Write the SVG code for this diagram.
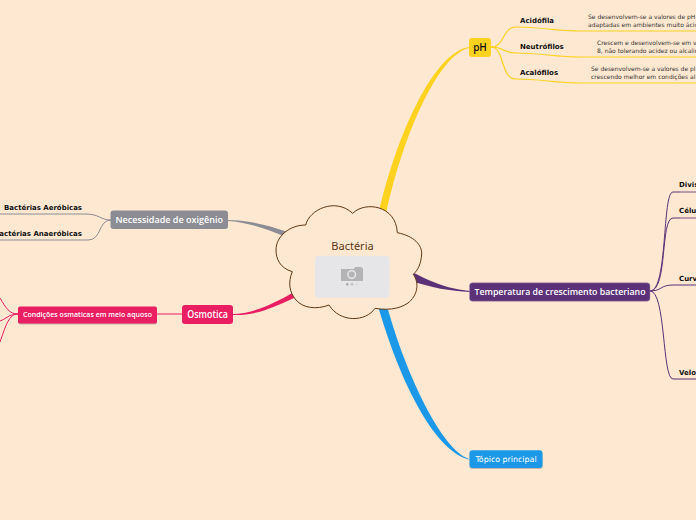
<svg xmlns="http://www.w3.org/2000/svg" width="696" height="520" viewBox="0 0 696 520">
<style>
text{font-family:"DejaVu Sans","Liberation Sans",sans-serif}
.l{font-size:7px;font-weight:700;fill:#111}
.d{font-size:6px;fill:#333}
.w{font-weight:600;fill:#fff;text-anchor:middle;font-family:"Open Sans","Noto Sans",sans-serif}
.c{fill:none}
.y{stroke:#ffd21f}.p{stroke:#5c3177}.g{stroke:#8c8c94}.r{stroke:#e91e63}
.f{stroke-width:1.500;opacity:.55}
</style>
<rect width="696" height="520" fill="#ffe8d1"/>
<g id="connectors" fill="none">
<path d="M379 212C398 130 435 52 469 47L469 48C440 54 404 130 386 214Z" fill="#ffd21f"/>
<path d="M378 306C398 375 432 450 469 459.500L469 458.900C442 450 406 375 387 306Z" fill="#1b98e8"/>
<path d="M408 270C435 284 450 289 470 291L470 292C450 291 432 288 408 280Z" fill="#5c3177"/>
<path d="M288 232C265 224 245 220 228 220L228 221C245 222 262 227 286 237Z" fill="#8c8c94"/>
<path d="M296 291C270 306 250 314 233 314L233 315C252 316 272 309 298 296Z" fill="#e91e63"/>
<g class="c y" stroke-width="1.200">
<path d="M491 47C505 47 502 27 516 27C540 27 556 31 580 31L696 31"/>
<path d="M491 47C505 47 502 53 516 53C540 53 556 57 580 57L696 57"/>
<path d="M491 47C505 47 500 79 516 79C540 79 556 83 580 83L696 83"/>
</g>
<g class="c p" stroke-width="1">
<path d="M650 291C668 291 662 192 673 192L680 192"/>
<path d="M650 291C668 291 660 218 673 218L680 218"/>
<path d="M650 291C662 291 660 285 673 285L696 285"/>
<path d="M650 291C666 291 662 379 673 379L696 379"/>
<path class="f" d="M680 192H696M680 218H696"/>
</g>
<g class="c g" stroke-width="1">
<path d="M111 220C100 220 100 214 85 214L0 214"/>
<path d="M111 220C98 220 102 240 88 240L0 240"/>
</g>
<g class="c r" stroke-width="1">
<path d="M183 314L157 314"/>
<path d="M18 314C9 314 6 308 0 298"/>
<path d="M18 314C9 314 6 319 0 321"/>
<path d="M18 314C9 314 6 325 0 342"/>
</g>
</g>
<g id="root">
<path d="M305.700 225C309 210 335 197 352.700 213.300C365 201 396 205 397.300 232.700C414 236 422 245 421.700 254C421 264 418 270 413.300 274.300C420 284 417 296 408 303C398 310 385 310 375 308.300C366 322 340 323 329 305C316 310 303 308 296 300C289 292 288 282 292.300 271.700C280 268 276 259 276 250C276 236 290 225 305.700 225Z" fill="#ffe8d1" stroke="#5f3713" stroke-width="1"/>
<text x="352.500" y="250" font-size="11" text-anchor="middle" fill="#5f3713" style="font-family:'Noto Sans','Open Sans',sans-serif">Bactéria</text>
<rect x="315" y="255.700" width="74.500" height="42" rx="4" fill="#e6e6e8"/>
<path d="M341 269h13l1-2h6l2 1.500v12.500h-22z" fill="#b4b4b6"/>
<circle cx="351.700" cy="274.500" r="3.800" fill="none" stroke="#e6e6e8" stroke-width="1.500"/>
<circle cx="347.300" cy="284.300" r="1.300" fill="#a8a8aa"/><circle cx="352" cy="284.300" r="1.300" fill="#c0c0c2"/><circle cx="356.700" cy="284.300" r="1.300" fill="#dcdcde"/>
</g>
<g id="ph"><rect x="469" y="38" width="22" height="19" rx="3" fill="#ffd21f"/><text x="480" y="51" font-size="10" font-weight="600" text-anchor="middle" fill="#111" style="font-family:'Open Sans',sans-serif">pH</text></g>
<g id="acidofila"><text class="l" x="520" y="23">Acidófila</text><text class="d" x="588" y="19">Se desenvolvem-se a valores de pH</text><text class="d" x="588" y="27">adaptadas em ambientes muito ácid</text></g>
<g id="neutrofilos"><text class="l" x="520" y="49">Neutrófilos</text><text class="d" x="597" y="45">Crescem e desenvolvem-se em v</text><text class="d" x="597" y="53">8, não tolerando acidez ou alcalin</text></g>
<g id="acalofilos"><text class="l" x="520" y="75">Acalófilos</text><text class="d" x="591" y="71">Se desenvolvem-se a valores de pl</text><text class="d" x="591" y="79">crescendo melhor em condições al</text></g>
<g id="temperatura"><rect x="469.500" y="282.800" width="180.500" height="18.400" rx="3" fill="#5c3177" stroke="#a98fb8" stroke-width=".5"/><text class="w" x="560" y="295" font-size="9.500" textLength="171" lengthAdjust="spacingAndGlyphs">Temperatura de crescimento bacteriano</text></g>
<g id="divisao"><text class="l" x="679" y="187">Divis</text></g>
<g id="celula"><text class="l" x="679" y="213">Célu</text></g>
<g id="curva"><text class="l" x="679" y="281">Curv</text></g>
<g id="velocidade"><text class="l" x="679" y="375">Velo</text></g>
<g id="topico"><rect x="469.500" y="451" width="73" height="18" rx="3" fill="#c9b8a8"/><rect x="469.500" y="450.300" width="73" height="17.700" rx="3" fill="#1b98e8"/><text x="506" y="462" font-size="7.900" text-anchor="middle" fill="#fff">Tópico principal</text></g>
<g id="oxigenio"><rect x="110.500" y="210.500" width="117.500" height="18.500" rx="3" fill="#8c8c94"/><text class="w" x="169.300" y="223" font-size="9.500" textLength="107.500" lengthAdjust="spacingAndGlyphs">Necessidade de oxigênio</text></g>
<g id="aerobicas"><text class="l" x="4" y="210" textLength="78" lengthAdjust="spacingAndGlyphs">Bactérias Aeróbicas</text></g>
<g id="anaerobicas"><text class="l" x="82" y="236" text-anchor="end">Bactérias Anaeróbicas</text></g>
<g id="osmotica"><rect x="182" y="305" width="51" height="19" rx="3" fill="#e91e63"/><text class="w" x="207.600" y="317.500" font-size="10" textLength="40.700" lengthAdjust="spacingAndGlyphs">Osmotica</text></g>
<g id="condicoes"><rect x="18" y="307.500" width="139" height="17" rx="2" fill="#a89a90" opacity=".7"/><rect x="18" y="306.500" width="139" height="17" rx="2" fill="#e91e63"/><text class="w" x="87.500" y="317" font-size="6.500" textLength="129" lengthAdjust="spacingAndGlyphs">Condições osmaticas em meio aquoso</text></g>
</svg>
